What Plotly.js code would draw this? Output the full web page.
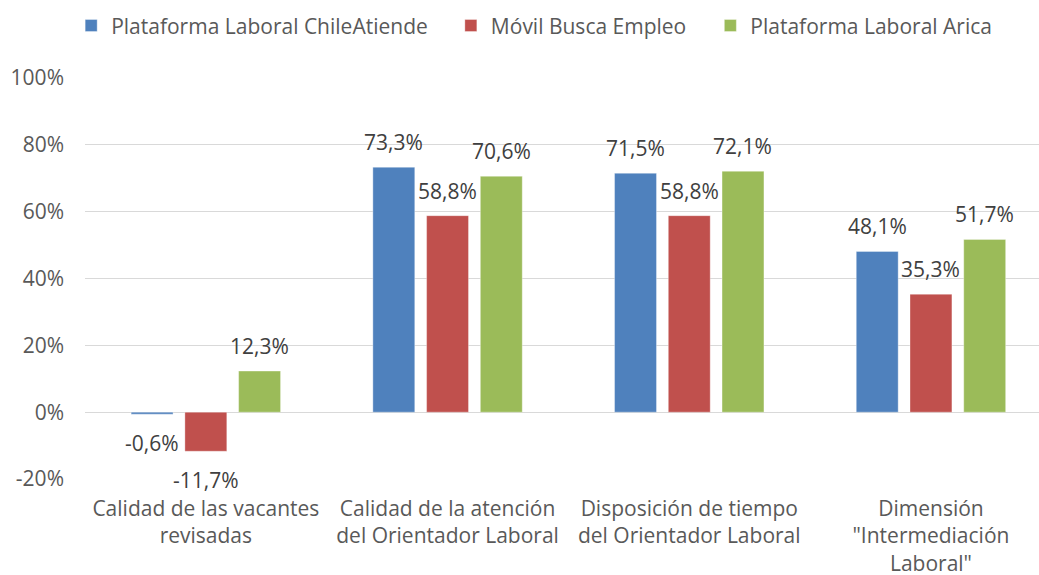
<!DOCTYPE html>
<html>
<head>
<meta charset="utf-8">
<script src="https://cdn.plot.ly/plotly-3.0.1.min.js"></script>
<style>html,body{margin:0;padding:0;background:#fff;}#chart{width:1039px;height:575px;}</style>
</head>
<body>
<div id="chart"></div>
<script>
const categories = ['Calidad de las vacantes<br>revisadas', 'Calidad de la atención<br>del Orientador Laboral', 'Disposición de tiempo<br>del Orientador Laboral', 'Dimensión<br>"Intermediación<br>Laboral"'];
const seriesNames = ['Plataforma Laboral ChileAtiende', 'Móvil Busca Empleo', 'Plataforma Laboral Arica'];
const chileAtiende = [-0.006, 0.733, 0.715, 0.481];
const movilBusca = [-0.117, 0.588, 0.588, 0.353];
const arica = [0.123, 0.706, 0.721, 0.517];
const colors = ['#4F81BD', '#C0504D', '#9BBB59'];
const yTickVals = [-0.2, 0, 0.2, 0.4, 0.6, 0.8, 1.0];
const yTickText = ['-20%', '0%', '20%', '40%', '60%', '80%', '100%'];

const FONT = 'Open Sans, Liberation Sans, sans-serif';
const TXT = '#595959';
const FS = 21;
const allSeries = [chileAtiende, movilBusca, arica];
const xIdx = categories.map((c, i) => i);
const legendIds = ['legend', 'legend2', 'legend3'];
const legendX = [-0.0145, 0.3835, 0.6555];

const traces = allSeries.map((vals, s) => ({
  type: 'bar',
  name: seriesNames[s],
  legend: legendIds[s],
  x: xIdx,
  y: vals,
  marker: {color: colors[s], line: {color: 'rgba(255,255,255,0.35)', width: 1}},
  hoverinfo: 'none'
}));

const nS = allSeries.length;
const bargap = 0.333;
const slot = (1 - bargap) / nS;
const annotations = [];
allSeries.forEach((vals, s) => {
  vals.forEach((v, i) => {
    const xo = i + (s - (nS - 1) / 2) * slot;
    annotations.push({
      x: xo, y: v, xref: 'x', yref: 'y',
      text: (v * 100).toFixed(1).replace('.', ',') + '%',
      showarrow: false,
      yshift: v >= 0 ? 25 : -29,
      font: {family: FONT, size: FS, color: '#404040'}
    });
  });
});

const layout = {
  width: 1039, height: 575,
  margin: {l: 85, r: 0, t: 78, b: 96},
  paper_bgcolor: '#fff', plot_bgcolor: '#fff',
  font: {family: FONT, size: FS, color: TXT},
  barmode: 'group',
  bargap: bargap,
  bargroupgap: 0.22,
  showlegend: true,
  xaxis: {
    range: [-0.5, 3.447],
    tickmode: 'array', tickvals: xIdx, ticktext: categories,
    showgrid: false, zeroline: false, showline: false, ticks: '',
    ticklabelstandoff: 15,
    tickfont: {family: FONT, size: FS, color: TXT}
  },
  yaxis: {
    range: [-0.2, 1.0],
    tickmode: 'array', tickvals: yTickVals, ticktext: yTickText,
    showgrid: true, gridcolor: '#d9d9d9', gridwidth: 1.3,
    zeroline: true, zerolinecolor: '#d9d9d9', zerolinewidth: 1.3,
    showline: false, ticks: '',
    ticklabelstandoff: 20,
    tickfont: {family: FONT, size: FS, color: TXT}
  },
  annotations: annotations
};
legendIds.forEach((id, s) => {
  layout[id] = {
    orientation: 'h', x: legendX[s], xanchor: 'left', y: 1.13, yanchor: 'middle',
    font: {family: FONT, size: FS, color: TXT},
    bgcolor: 'rgba(0,0,0,0)',
    itemclick: false
  };
});

Plotly.newPlot('chart', traces, layout, {displayModeBar: false, staticPlot: true});
</script>
</body>
</html>
